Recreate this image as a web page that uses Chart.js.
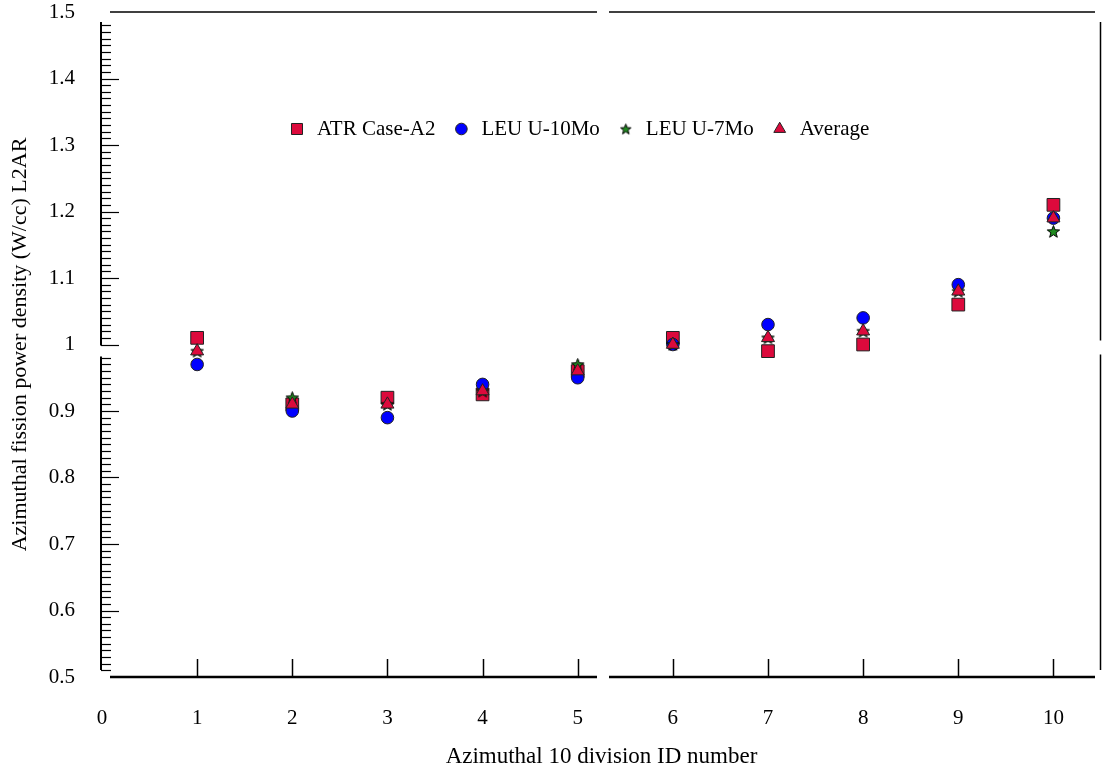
<!DOCTYPE html>
<html>
<head>
<meta charset="utf-8">
<title>Azimuthal fission power density L2AR</title>
<script src="https://cdn.jsdelivr.net/npm/chart.js@4.4.1/dist/chart.umd.min.js"></script>
<style>
  html, body { margin: 0; padding: 0; background: #fff; }
  #wrap { width: 1106px; height: 772px; }
</style>
</head>
<body>
<div id="wrap"><canvas id="chart" width="1106" height="772"></canvas></div>
<script>
// ----------------- Data -----------------
const divisionIds = [1, 2, 3, 4, 5, 6, 7, 8, 9, 10];
const atrCaseA2 = [1.01, 0.91, 0.92, 0.925, 0.96, 1.01, 0.99, 1.00, 1.06, 1.21];
const leuU10Mo = [0.97, 0.90, 0.89, 0.94, 0.95, 1.00, 1.03, 1.04, 1.09, 1.19];
const leuU7Mo = [0.99, 0.92, 0.91, 0.93, 0.97, 1.00, 1.01, 1.02, 1.08, 1.17];
const average = [0.99, 0.91, 0.91, 0.93, 0.96, 1.00, 1.01, 1.02, 1.08, 1.19];
const seriesNames = ["ATR Case-A2", "LEU U-10Mo", "LEU U-7Mo", "Average"];
const xTickValues = [0, 1, 2, 3, 4, 5, 6, 7, 8, 9, 10];
const yTickValues = [0.5, 0.6, 0.7, 0.8, 0.9, 1.0, 1.1, 1.2, 1.3, 1.4, 1.5];

// ----------------- Styles -----------------
const FONT = "'Liberation Serif', 'Times New Roman', serif";
const RED = "#dc0a3c";
const BLUE = "#0000ff";
const GREEN = "#1f8a1f";
const EDGE = "#222";

// filled five point star, used as an image point style
function makeStar(size) {
  const c = document.createElement("canvas");
  c.width = size; c.height = size;
  const g = c.getContext("2d");
  const cx = size / 2, cy = size / 2 + 0.5;
  const ro = size / 2 - 1, ri = ro * 0.42;
  g.beginPath();
  for (let i = 0; i < 10; i++) {
    const r = i % 2 ? ri : ro;
    const a = -Math.PI / 2 + i * Math.PI / 5;
    g.lineTo(cx + r * Math.cos(a), cy + r * Math.sin(a));
  }
  g.closePath();
  g.fillStyle = GREEN;
  g.fill();
  g.lineWidth = 1;
  g.strokeStyle = "#000";
  g.stroke();
  return c;
}
const starBig = makeStar(15);
const starSmall = makeStar(13);

const toPoints = vals => divisionIds.map((id, i) => ({ x: id, y: vals[i] }));

// ----------------- Plugins -----------------
// broken frame lines and hand drawn ticks
const framePlugin = {
  id: "frame",
  beforeDatasetsDraw(chart) {
    const { ctx, chartArea: a, scales: { x, y } } = chart;
    const mid = (a.left + a.right) / 2;
    ctx.save();
    ctx.strokeStyle = "#000";
    ctx.lineCap = "butt";

    const line = (x1, y1, x2, y2, w) => {
      ctx.lineWidth = w;
      ctx.beginPath();
      ctx.moveTo(x1, y1);
      ctx.lineTo(x2, y2);
      ctx.stroke();
    };

    // top and bottom, both with a gap in the middle
    line(a.left + 8, a.top, mid - 4.5, a.top, 1.5);
    line(mid + 7.5, a.top, a.right - 6, a.top, 1.5);
    line(a.left + 8, a.bottom, mid - 4.5, a.bottom, 2.5);
    line(mid + 7.5, a.bottom, a.right - 6, a.bottom, 2.5);

    // left axis, broken just under 1
    const lx = a.left - 1;
    line(lx, a.top + 10, lx, y.getPixelForValue(1.0) + 1, 2);
    line(lx, y.getPixelForValue(0.982), lx, a.bottom - 7, 2);

    // right axis, broken just above 1
    const rx = a.right - 0.5;
    line(rx, a.top + 10, rx, y.getPixelForValue(1.0) - 4, 1.5);
    line(rx, y.getPixelForValue(0.985), rx, a.bottom - 7, 1.5);

    // left minor / major ticks every 0.01
    for (let k = 51; k <= 148; k++) {
      if (k === 99) continue;
      const py = Math.round(y.getPixelForValue(k / 100)) + 0.5;
      const len = k % 10 === 0 ? 18 : 10;
      line(lx, py, lx + len, py, 1.2);
    }

    // bottom ticks pointing up
    divisionIds.forEach(id => {
      const px = Math.round(x.getPixelForValue(id)) + 0.5;
      line(px, a.bottom, px, a.bottom - 18, 1.5);
    });
    ctx.restore();
  }
};

// legend drawn inside the plot area
const legendPlugin = {
  id: "innerLegend",
  afterDraw(chart) {
    const { ctx } = chart;
    const marks = [
      { pointStyle: "rect", radius: 7.8, fill: RED },
      { pointStyle: "circle", radius: 5.8, fill: BLUE },
      { pointStyle: starSmall, radius: 6, fill: GREEN },
      { pointStyle: "triangle", radius: 6.8, fill: RED }
    ];
    ctx.save();
    ctx.font = `21px ${FONT}`;
    ctx.textBaseline = "middle";
    ctx.textAlign = "left";
    let cx = 297;
    const cy = 129;
    seriesNames.forEach((name, i) => {
      const m = marks[i];
      ctx.fillStyle = m.fill;
      ctx.strokeStyle = EDGE;
      ctx.lineWidth = 1;
      Chart.helpers.drawPoint(ctx, { pointStyle: m.pointStyle, radius: m.radius, rotation: 0, borderWidth: 1 }, cx, cy);
      ctx.fillStyle = "#000";
      const tx = cx + 20;
      ctx.fillText(name, tx, cy);
      cx = tx + ctx.measureText(name).width + 26;
    });
    ctx.restore();
  }
};

// ----------------- Chart -----------------
function renderChart() {
  const ctx = document.getElementById("chart").getContext("2d");
  new Chart(ctx, {
    type: "scatter",
    data: {
      datasets: [
        {
          label: seriesNames[0], data: toPoints(atrCaseA2), order: 4,
          pointStyle: "rect", pointRadius: 9, pointHoverRadius: 9,
          backgroundColor: RED, borderColor: EDGE, borderWidth: 1
        },
        {
          label: seriesNames[1], data: toPoints(leuU10Mo), order: 3,
          pointStyle: "circle", pointRadius: 6.3, pointHoverRadius: 6.3,
          backgroundColor: BLUE, borderColor: EDGE, borderWidth: 1
        },
        {
          label: seriesNames[2], data: toPoints(leuU7Mo), order: 2,
          pointStyle: starBig, pointRadius: 7, pointHoverRadius: 7,
          backgroundColor: GREEN, borderColor: "#000", borderWidth: 1
        },
        {
          label: seriesNames[3], data: toPoints(average), order: 1,
          pointStyle: "triangle", pointRadius: 7.5, pointHoverRadius: 7.5,
          backgroundColor: RED, borderColor: EDGE, borderWidth: 1
        }
      ]
    },
    options: {
      responsive: false,
      animation: false,
      layout: { autoPadding: false, padding: { top: 12, right: 5, left: 0, bottom: 0 } },
      plugins: {
        legend: { display: false },
        tooltip: { enabled: false }
      },
      scales: {
        x: {
          type: "linear",
          min: 0,
          max: 10.5,
          afterBuildTicks: s => { s.ticks = xTickValues.map(v => ({ value: v })); },
          afterFit: s => { s.height = 95; s.paddingLeft = 0; s.paddingRight = 0; },
          grid: { display: false, drawTicks: false },
          border: { display: false },
          ticks: {
            color: "#000",
            padding: 29,
            font: { family: FONT, size: 21 }
          },
          title: {
            display: true,
            text: "Azimuthal 10 division ID number",
            color: "#000",
            font: { family: FONT, size: 23 },
            padding: { top: 0, bottom: 1 }
          }
        },
        y: {
          type: "linear",
          min: 0.5,
          max: 1.5,
          afterBuildTicks: s => { s.ticks = yTickValues.map(v => ({ value: v })); },
          afterFit: s => { s.width = 102; s.paddingTop = 0; s.paddingBottom = 0; },
          grid: { display: false, drawTicks: false },
          border: { display: false },
          ticks: {
            color: "#000",
            padding: 27,
            font: { family: FONT, size: 21 },
            callback: v => String(Math.round(v * 10) / 10)
          },
          title: {
            display: true,
            text: "Azimuthal fission power density (W/cc) L2AR",
            color: "#000",
            font: { family: FONT, size: 22 },
            padding: { top: 7, bottom: 0 }
          }
        }
      }
    },
    plugins: [framePlugin, legendPlugin]
  });
}

window.addEventListener("DOMContentLoaded", renderChart);
</script>
</body>
</html>
